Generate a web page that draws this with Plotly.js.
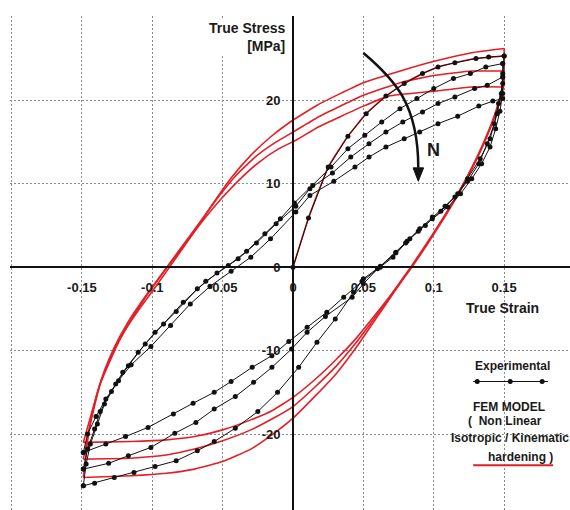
<!DOCTYPE html>
<html>
<head>
<meta charset="utf-8">
<script src="https://cdn.plot.ly/plotly-3.0.1.min.js"></script>
<style>html,body{margin:0;padding:0;background:#fff;}#chart{width:570px;height:510px;}</style>
</head>
<body>
<div id="chart"></div>
<script>
// ---------- Experimental (black, with markers) ----------
const expInitX = [0, 0.011, 0.025, 0.039, 0.052, 0.066, 0.079, 0.092, 0.103, 0.115, 0.130, 0.139, 0.150];
const expInitY = [0, 5.9, 12.0, 15.7, 18.4, 20.5, 22.0, 23.2, 24.0, 24.5, 25.0, 25.2, 25.3];

const expUnload1X = [0.150,0.149,0.148,0.145,0.140,0.133,0.124,0.117,0.108,0.099,0.090,0.081,0.073,0.062,0.050,0.043,0.030,0.017,0.004,-0.011,-0.025,-0.041,-0.056,-0.068,-0.083,-0.098,-0.113,-0.127,-0.141,-0.149];
const expUnload1Y = [25.3,23.2,20.8,18.4,15.4,13.0,10.6,8.8,7.3,6.0,4.6,3.1,1.8,0.1,-1.4,-3.0,-6.2,-9.0,-12.0,-15.0,-17.3,-19.3,-20.9,-22.0,-23.2,-23.9,-24.6,-25.2,-25.9,-26.2];

const expLoad1X = [-0.149,-0.147,-0.144,-0.139,-0.134,-0.126,-0.117,-0.105,-0.092,-0.078,-0.062,-0.046,-0.033,-0.020,-0.009,0.001,0.014,0.027,0.039,0.051,0.063,0.076,0.088,0.100,0.114,0.126,0.137,0.149];
const expLoad1Y = [-26.2,-23.6,-21.2,-18.8,-16.4,-14.0,-11.8,-9.2,-6.8,-4.2,-1.7,0.2,1.9,4.0,5.8,7.7,9.8,12.0,14.2,15.8,17.4,19.0,20.2,21.4,22.6,23.2,24.0,24.4];

const expUnload2X = [0.149,0.149,0.146,0.143,0.138,0.132,0.124,0.115,0.105,0.094,0.083,0.073,0.060,0.050,0.042,0.023,0.010,-0.001,-0.015,-0.028,-0.041,-0.056,-0.069,-0.084,-0.101,-0.117,-0.131,-0.149];
const expUnload2Y = [24.4,22.0,19.6,17.2,14.8,12.4,10.3,8.4,6.7,5.0,3.4,1.7,-0.2,-2.0,-3.6,-5.9,-7.8,-9.8,-12.0,-13.8,-15.5,-17.0,-18.6,-19.9,-21.6,-22.6,-23.5,-24.2];

const expLoad2X = [-0.149,-0.146,-0.141,-0.137,-0.129,-0.121,-0.110,-0.098,-0.083,-0.068,-0.054,-0.039,-0.026,-0.012,0.002,0.012,0.028,0.041,0.054,0.066,0.078,0.092,0.103,0.115,0.129,0.138,0.149];
const expLoad2Y = [-24.2,-21.8,-19.4,-17.3,-14.9,-12.6,-10.2,-7.8,-5.3,-2.6,-0.7,1.0,2.9,5.2,7.3,9.4,11.3,13.2,14.8,16.2,17.4,18.6,19.6,20.4,21.4,21.8,22.8];

const expUnload3X = [0.149,0.149,0.147,0.144,0.140,0.134,0.127,0.119,0.110,0.099,0.089,0.080,0.071,0.062,0.049,0.036,0.024,0.010,-0.003,-0.015,-0.029,-0.044,-0.056,-0.071,-0.085,-0.103,-0.119,-0.133,-0.149];
const expUnload3Y = [22.8,20.8,18.7,16.6,14.4,12.4,10.6,8.8,7.2,5.8,4.3,2.9,1.2,0.0,-1.7,-3.6,-5.4,-7.2,-8.9,-10.6,-12.0,-13.7,-15.0,-16.3,-17.6,-19.2,-20.3,-21.2,-22.2];

const expLoad3X = [-0.149,-0.146,-0.140,-0.133,-0.124,-0.115,-0.101,-0.087,-0.073,-0.059,-0.044,-0.030,-0.016,0.002,0.012,0.029,0.044,0.054,0.066,0.079,0.090,0.103,0.117,0.132,0.142,0.149];
const expLoad3Y = [-22.2,-20.0,-17.9,-15.8,-13.6,-11.7,-9.5,-7.0,-4.4,-2.3,-0.5,1.2,3.4,6.6,8.6,10.3,12.0,13.2,14.4,15.4,16.2,17.2,18.1,19.3,19.9,20.2];

// ---------- FEM model (red lines) ----------
const femInitX = [0, 0.011, 0.025, 0.039, 0.052, 0.066, 0.079, 0.092, 0.103, 0.115, 0.130, 0.150];
const femInitY = [0, 5.9, 12.0, 15.7, 18.4, 20.5, 22.0, 23.2, 24.0, 24.5, 25.0, 25.3];

const femUnloadX = [0.150,0.150,0.149,0.146,0.141,0.134,0.126,0.117,0.107,0.096,0.084,0.071,0.058,0.045,0.031,0.016,0.000,-0.015,-0.030,-0.050,-0.070,-0.090,-0.115,-0.149];
const femUnload1Y = [25.3,23.0,21.7,19.6,17.1,14.3,11.5,8.7,5.9,3.0,0.0,-3.2,-6.4,-9.6,-12.7,-15.4,-18.1,-20.1,-21.8,-23.3,-24.2,-24.7,-25.0,-25.2];
const femUnload2Y = [26.2,23.2,21.8,19.7,17.2,14.4,11.6,8.8,6.0,3.1,0.1,-3.0,-6.1,-9.0,-11.8,-14.3,-16.7,-18.2,-19.5,-20.8,-21.8,-22.5,-22.9,-23.0];
const femUnload3Y = [23.5,22.3,21.2,19.4,17.0,14.2,11.4,8.6,5.8,2.9,-0.1,-3.0,-5.8,-8.5,-11.0,-13.4,-15.6,-17.2,-18.3,-19.5,-20.3,-20.7,-20.9,-21.0];

const femLoad1X = [-0.149,-0.147,-0.145,-0.141,-0.137,-0.130,-0.121,-0.110,-0.097,-0.084,-0.070,-0.057,-0.044,-0.030,-0.016,-0.002,0.018,0.050,0.078,0.101,0.127,0.150];
const femLoad1Y = [-25.2,-22.4,-19.6,-16.6,-14.0,-11.0,-8.0,-5.2,-2.2,0.9,4.3,7.6,10.7,13.4,15.6,17.4,19.5,22.1,23.6,24.7,25.7,26.2];

const femLoad2X = [-0.149,-0.146,-0.143,-0.139,-0.134,-0.127,-0.118,-0.107,-0.094,-0.081,-0.067,-0.054,-0.041,-0.027,-0.013,0.000,0.018,0.050,0.078,0.101,0.127,0.150];
const femLoad2Y = [-23.0,-20.4,-17.8,-15.0,-12.4,-9.6,-6.8,-4.0,-1.0,2.0,5.2,8.2,10.9,13.2,14.9,16.2,18.0,20.6,22.2,23.0,23.5,23.5];

const femLoad3X = [-0.149,-0.145,-0.141,-0.137,-0.131,-0.124,-0.115,-0.104,-0.091,-0.078,-0.064,-0.051,-0.038,-0.024,-0.010,0.003,0.018,0.050,0.068,0.101,0.127,0.150];
const femLoad3Y = [-21.0,-18.6,-16.2,-14.0,-11.6,-9.0,-6.3,-3.4,-0.4,2.5,5.6,8.2,10.5,12.6,14.2,15.3,16.8,19.3,20.5,21.1,21.6,21.6];

// ---------- Ticks ----------
const xTickVals = [-0.2, -0.15, -0.1, -0.05, 0, 0.05, 0.1, 0.15];
const xTickText = ['', '-0.15', '-0.1', '-0.05', '0', '0.05', '0.1', '0.15'];
const yTickVals = [-20, -10, 0, 10, 20, 30];
const yTickText = ['-20', '-10', '0', '10', '20', ''];

const RED = 'rgb(228,30,38)';
const FONT = 'Liberation Sans, Arial, sans-serif';

const femSets = [[femInitX,femInitY],[femUnloadX,femUnload1Y],[femLoad1X,femLoad1Y],[femUnloadX,femUnload2Y],[femLoad2X,femLoad2Y],[femUnloadX,femUnload3Y],[femLoad3X,femLoad3Y]];
const expSets = [[expInitX,expInitY],[expUnload1X,expUnload1Y],[expLoad1X,expLoad1Y],[expUnload2X,expUnload2Y],[expLoad2X,expLoad2Y],[expUnload3X,expUnload3Y],[expLoad3X,expLoad3Y]];

const traces = [];
femSets.forEach(([x,y]) => traces.push({x, y, type:'scatter', mode:'lines', line:{color:RED, width:1.6, shape:'spline', smoothing:0.4}, hoverinfo:'skip'}));
expSets.forEach(([x,y]) => traces.push({x, y, type:'scatter', mode:'lines+markers', line:{color:'#111', width:1}, marker:{color:'#111', size:5, symbol:'circle'}, hoverinfo:'skip'}));

const txt = (text, x, y, size, extra) => Object.assign({text, x, y, xref:'x', yref:'y', showarrow:false, font:{family:FONT, size, color:'#1a1a1a', weight:'bold'}}, extra||{});

const layout = {
  width:570, height:510,
  margin:{l:10, r:0, t:16, b:0},
  paper_bgcolor:'#fff', plot_bgcolor:'#fff',
  showlegend:false,
  font:{family:FONT, color:'#1a1a1a'},
  xaxis:{range:[-0.2011, 0.1968], anchor:'free', position:0.49155, tickvals:xTickVals, ticktext:xTickText,
    showgrid:true, gridcolor:'#8c8c8c', griddash:'2px,2px', gridwidth:1, zeroline:false,
    showline:true, linecolor:'#111', linewidth:2, ticks:'', ticklabelstandoff:8,
    tickfont:{family:FONT, size:13, color:'#1a1a1a', weight:'bold'}},
  yaxis:{range:[-29.1, 30.1], anchor:'free', position:0.5054, tickvals:yTickVals, ticktext:yTickText,
    showgrid:true, gridcolor:'#8c8c8c', griddash:'2px,2px', gridwidth:1, zeroline:false,
    showline:true, linecolor:'#111', linewidth:2, ticks:'', ticklabelstandoff:9,
    tickfont:{family:FONT, size:13, color:'#1a1a1a', weight:'bold'}},
  annotations:[
    txt('True Stress<br>[MPa]', -0.004, 27.6, 14, {xanchor:'right', align:'right', bgcolor:'#fff'}),
    txt('True Strain', 0.1486, -4.85, 14),
    txt('N', 0.0996, 14.05, 18),
    txt('Experimental', 0.1557, -11.9, 12),
    txt('FEM MODEL', 0.1535, -16.7, 12),
    txt('(\u00a0\u00a0Non Linear', 0.1505, -18.4, 12),
    txt('Isotropic / Kinematic', 0.1543, -20.5, 12),
    txt('hardening )', 0.1613, -22.7, 12)
  ],
  shapes:[
    // curved arrow for N
    {type:'path', xref:'x', yref:'y', path:'M 0.050,25.66 C 0.0727,22.43 0.089,19.44 0.089,11.9', line:{color:'#111', width:2.5}},
    {type:'path', xref:'x', yref:'y', path:'M 0.0853,11.9 L 0.0928,11.9 L 0.089,10.3 Z', fillcolor:'#111', line:{color:'#111', width:1}},
    // legend samples
    {type:'line', xref:'x', yref:'y', x0:0.128, x1:0.1812, y0:-13.7, y1:-13.7, line:{color:'#111', width:1}},
    {type:'circle', xref:'x', yref:'y', xsizemode:'pixel', ysizemode:'pixel', xanchor:0.1309, yanchor:-13.7, x0:-2.5, x1:2.5, y0:-2.5, y1:2.5, fillcolor:'#111', line:{width:0}},
    {type:'circle', xref:'x', yref:'y', xsizemode:'pixel', ysizemode:'pixel', xanchor:0.1543, yanchor:-13.7, x0:-2.5, x1:2.5, y0:-2.5, y1:2.5, fillcolor:'#111', line:{width:0}},
    {type:'circle', xref:'x', yref:'y', xsizemode:'pixel', ysizemode:'pixel', xanchor:0.1770, yanchor:-13.7, x0:-2.5, x1:2.5, y0:-2.5, y1:2.5, fillcolor:'#111', line:{width:0}},
    {type:'line', xref:'x', yref:'y', x0:0.128, x1:0.1848, y0:-23.74, y1:-23.74, line:{color:RED, width:2}}
  ]
};

Plotly.newPlot('chart', traces, layout, {displayModeBar:false, staticPlot:true});
</script>
</body>
</html>
